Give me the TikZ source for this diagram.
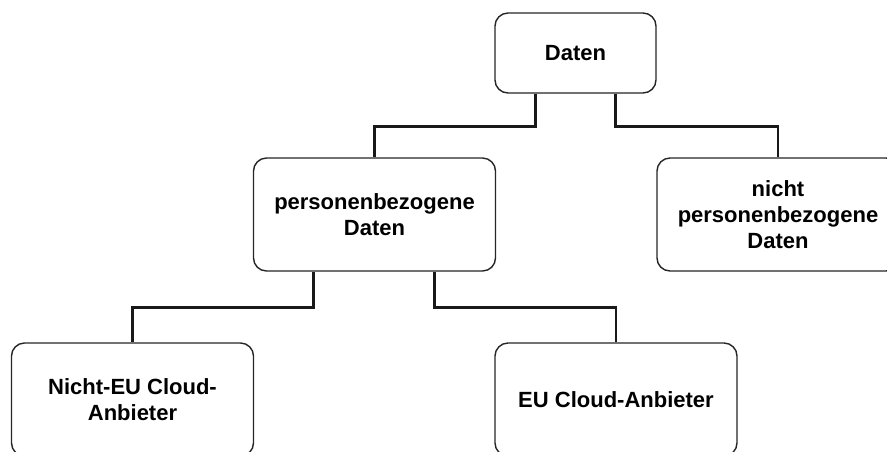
\documentclass[tikz,border=0pt]{standalone}
\usepackage{fontspec}
\setmainfont{Liberation Sans}
\usetikzlibrary{calc}

\tikzset{
  box/.style={draw=black!85, line width=1.4pt, rounded corners=13pt, fill=white,
    align=center, inner sep=0pt, minimum width=242pt, minimum height=113pt,
    font=\fontsize{22}{26}\selectfont\bfseries},
  link/.style={draw=black!90, line width=2.6pt}
}

\begin{document}
\begin{tikzpicture}[x=1pt, y=-1pt]
		%%%%% START %%%%%
		
		\clip (0, 0) rectangle (887, 451);
		
		\node[box, minimum width=161pt, minimum height=80pt] (daten) at (575.5, 53) {Daten};
		
		\node[box] (pbd) at (374.5, 214.5) {personenbezogene\\Daten};
		\node[box] (npbd) at (778, 214.5) {nicht\\personenbezogene\\Daten};
		
		\node[box] (noneu) at (132.5, 399.5) {Nicht-EU Cloud-\\Anbieter};
		\node[box] (eu) at (616, 399.5) {EU Cloud-Anbieter};
		
		\draw[link] ([xshift=-40pt]daten.south) -- ++(0, 32.5) -| (pbd.north);
		\draw[link] ([xshift=40pt]daten.south) -- ++(0, 32.5) -| (npbd.north);
		
		\draw[link] ([xshift=-61pt]pbd.south) -- ++(0, 36) -| (noneu.north);
		\draw[link] ([xshift=60pt]pbd.south) -- ++(0, 36) -| (eu.north);
		
		%%%%% END %%%%%
\end{tikzpicture}
\end{document}
